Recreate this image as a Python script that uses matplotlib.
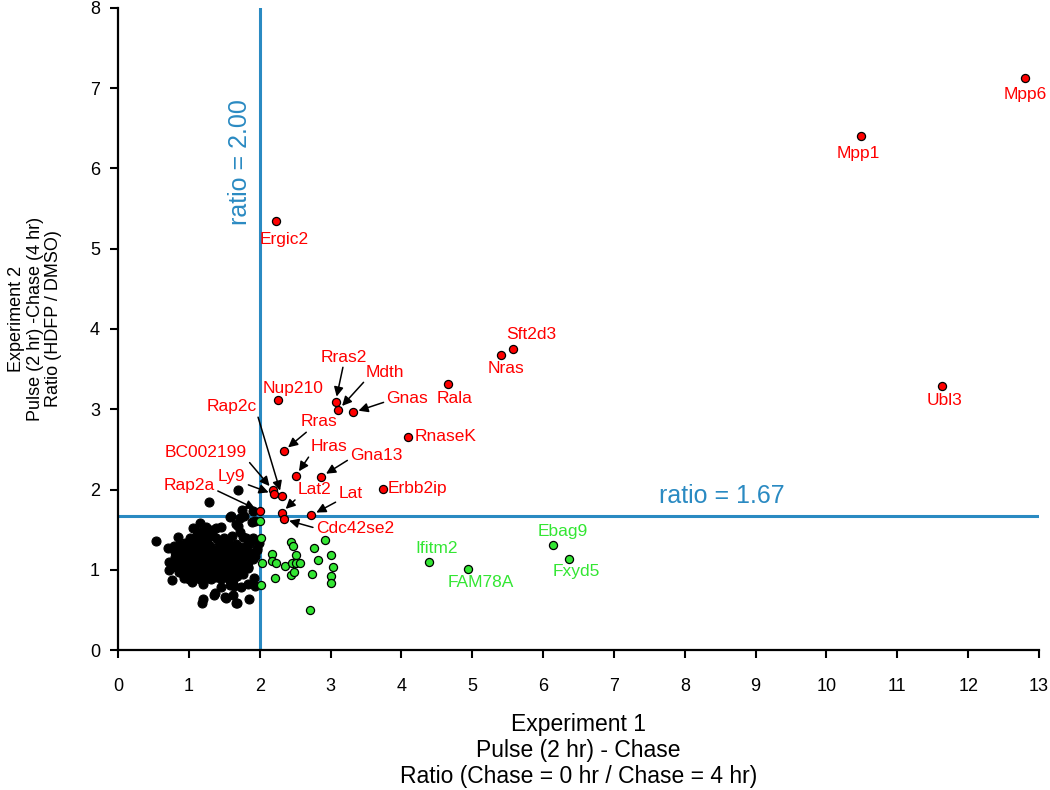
import matplotlib
matplotlib.use("Agg")
import matplotlib.pyplot as plt

plt.rcParams['font.family'] = ['Liberation Sans', 'DejaVu Sans']

# unlabeled background proteins (black)
bg_x = [1.69, 1.28, 1.75, 1.91, 1.58, 1.60, 1.72, 1.78, 1.93, 1.16, 1.67, 1.70,
        1.06, 1.13, 1.20, 1.33, 1.39, 1.45, 1.24, 1.28,
        0.84, 1.11, 1.27, 1.49, 1.52, 1.77, 1.80, 1.02, 1.17, 1.22, 1.33, 1.38, 1.61, 1.72,
        0.54,
        0.79, 0.71, 0.88, 0.95, 1.05, 1.10, 1.15, 1.25, 1.30, 1.42, 1.47, 1.55, 1.60, 1.66, 1.84, 1.99, 1.88, 1.74,
        0.80, 0.90, 0.96, 1.00, 1.06, 1.12, 1.18, 1.22, 1.28, 1.34, 1.39, 1.44, 1.50, 1.56, 1.62, 1.68, 1.73, 1.80, 1.86, 1.94, 1.96,
        0.80, 0.86, 0.92, 0.98, 1.03, 1.08, 1.13, 1.19, 1.24, 1.30, 1.35, 1.41, 1.46, 1.52, 1.57, 1.63, 1.69, 1.75, 1.82, 1.90,
        0.72, 0.78, 0.84, 0.90, 0.95, 1.01, 1.06, 1.11, 1.16, 1.21, 1.27, 1.32, 1.37, 1.42, 1.48, 1.53, 1.58, 1.64, 1.70, 1.77, 1.84,
        0.72, 0.82, 0.88, 0.93, 0.99, 1.04, 1.09, 1.14, 1.19, 1.24, 1.29, 1.34, 1.40, 1.45, 1.50, 1.55, 1.61, 1.67, 1.72, 1.84, 1.79,
        0.86, 0.92, 0.97, 1.02, 1.07, 1.12, 1.17, 1.22, 1.27, 1.32, 1.37, 1.43, 1.48, 1.53, 1.59, 1.65, 1.70, 1.77, 1.92,
        0.76, 0.93, 1.00, 1.05, 1.10, 1.16, 1.25, 1.31, 1.38, 1.46, 1.55, 1.62, 1.68,
        1.58, 1.64, 1.74, 1.83, 1.20, 1.45, 1.93,
        1.20, 1.19, 1.35, 1.52, 1.62, 1.68, 1.85, 1.89, 1.91, 1.96, 1.84, 1.37, 1.51, 1.67]
bg_y = [1.99, 1.85, 1.74, 1.73, 1.66, 1.67, 1.64, 1.67, 1.61, 1.58, 1.57, 1.55,
        1.52, 1.47, 1.47, 1.50, 1.52, 1.53, 1.53, 1.49,
        1.41, 1.43, 1.41, 1.39, 1.36, 1.41, 1.39, 1.40, 1.38, 1.42, 1.44, 1.40, 1.42, 1.47,
        1.36,
        1.30, 1.27, 1.31, 1.33, 1.30, 1.34, 1.30, 1.33, 1.30, 1.32, 1.29, 1.33, 1.30, 1.32, 1.31, 1.33, 1.36, 1.28,
        1.22, 1.24, 1.21, 1.26, 1.23, 1.25, 1.22, 1.26, 1.23, 1.25, 1.22, 1.24, 1.21, 1.24, 1.22, 1.25, 1.21, 1.24, 1.21, 1.17, 1.25,
        1.16, 1.18, 1.15, 1.17, 1.14, 1.18, 1.15, 1.17, 1.14, 1.18, 1.15, 1.17, 1.14, 1.18, 1.15, 1.17, 1.14, 1.17, 1.15, 1.13,
        1.10, 1.08, 1.11, 1.09, 1.12, 1.09, 1.11, 1.08, 1.12, 1.09, 1.11, 1.08, 1.12, 1.09, 1.11, 1.08, 1.12, 1.09, 1.11, 1.08, 1.10,
        1.00, 1.04, 1.02, 1.05, 1.03, 1.05, 1.02, 1.05, 1.03, 1.06, 1.03, 1.05, 1.02, 1.05, 1.03, 1.06, 1.03, 1.05, 1.02, 1.02, 1.04,
        0.97, 0.95, 0.98, 0.96, 0.99, 0.96, 0.98, 0.95, 0.98, 0.96, 0.99, 0.96, 0.98, 0.95, 0.97, 0.96, 0.98, 0.95, 0.90,
        0.87, 0.90, 0.88, 0.85, 0.91, 0.89, 0.90, 0.88, 0.91, 0.89, 0.90, 0.87, 0.92,
        0.81, 0.80, 0.79, 0.82, 0.82, 0.78, 0.80,
        0.63, 0.58, 0.69, 0.65, 0.69, 0.59, 0.63, 1.60, 1.39, 1.27, 1.04, 0.71, 0.66, 0.58]

# unlabeled decreased proteins (green)
grn_x = [2.00, 2.02, 2.03, 2.02, 2.18, 2.18, 2.23, 2.22, 2.36, 2.44, 2.47, 2.51, 2.45,
         2.51, 2.57, 2.44, 2.49, 2.76, 2.82, 2.74, 2.92, 3.00, 3.03, 3.00, 3.00, 2.71]
grn_y = [1.61, 1.40, 1.08, 0.81, 1.20, 1.11, 1.09, 0.90, 1.05, 1.34, 1.30, 1.19, 1.08,
         1.09, 1.09, 0.93, 0.97, 1.27, 1.12, 0.95, 1.37, 1.19, 1.03, 0.92, 0.83, 0.50]

# labeled increased proteins (red)
red_names = ['Mpp6', 'Mpp1', 'Ubl3', 'Ergic2', 'Sft2d3', 'Nras', 'Rala', 'RnaseK', 'Erbb2ip',
             'Gnas', 'Mdth', 'Rras2', 'Nup210', 'Rras', 'Hras', 'Gna13', 'BC002199', 'Ly9',
             'Rap2c', 'Rap2a', 'Lat2', 'Lat', 'Cdc42se2']
red_x = [12.80, 10.49, 11.63, 2.23, 5.58, 5.41, 4.66, 4.09, 3.74,
         3.32, 3.11, 3.07, 2.26, 2.34, 2.51, 2.87, 2.19, 2.20,
         2.31, 2.01, 2.31, 2.73, 2.34]
red_y = [7.13, 6.41, 3.29, 5.35, 3.75, 3.68, 3.32, 2.66, 2.01,
         2.96, 2.99, 3.09, 3.11, 2.48, 2.17, 2.16, 1.99, 1.94,
         1.92, 1.73, 1.71, 1.68, 1.63]

# labeled decreased proteins (green)
gl_names = ['Ifitm2', 'FAM78A', 'Ebag9', 'Fxyd5']
gl_x = [4.39, 4.94, 6.14, 6.37]
gl_y = [1.10, 1.01, 1.31, 1.13]

x_cut = 2.00
y_cut = 1.67

# label offsets (pixels), alignment, and arrow start on text (None = no arrow)
red_off = [(0, -17), (-3, -18), (3, -15), (8, -19), (18, 15), (5, -14), (6, -15), (7, 0), (5, 0),
           (54, 14), (47, 38), (8, 45), (15, 12), (35, 29), (33, 29), (55, 21), (-67, 38), (-42, 18),
           (-50, 89), (-71, 26), (33, 23), (39, 22), (71, -9)]
red_ha = ['center'] * 7 + ['left', 'left'] + ['center'] * 14
red_arrow = [None] * 9 + [(0, 0.3), (0, 0), (0.5, 0), None, (0.25, 0), (0, 0), (0, 0.3), (1, 0), (1, 0),
                          (1, 0.1), (1, 0.2), (0, 0), (0, 0), (0, 0.5)]
gl_off = [(8, 13), (13, -14), (10, 13), (7, -12)]

blue = '#2A8AC2'
red = '#FF0000'
green = '#33E633'

fig = plt.figure(figsize=(10.5, 7.9), dpi=100)
ax = fig.add_axes([0.1124, 0.1772, 0.8771, 0.8127])

ax.axvline(x_cut, color=blue, lw=2.2, zorder=1)
ax.axhline(y_cut, color=blue, lw=2.2, zorder=1)

ax.scatter(bg_x, bg_y, s=42, c='black', edgecolors='black', linewidths=0.8, zorder=3)
ax.scatter(grn_x, grn_y, s=34, c=green, edgecolors='black', linewidths=0.9, zorder=4)
ax.scatter(gl_x, gl_y, s=34, c=green, edgecolors='black', linewidths=0.9, zorder=4)
ax.scatter(red_x, red_y, s=34, c=red, edgecolors='black', linewidths=0.9, zorder=4)

for name, x, y, off, ha, arr in zip(red_names, red_x, red_y, red_off, red_ha, red_arrow):
    props = None
    if arr is not None:
        props = dict(arrowstyle='-|>', color='black', lw=1.1, mutation_scale=14,
                     shrinkA=0, shrinkB=4, relpos=arr)
    ax.annotate(name, (x, y), xytext=off, textcoords='offset pixels', ha=ha, va='center',
                color=red, fontsize=12.5, arrowprops=props, zorder=5)

for name, x, y, off in zip(gl_names, gl_x, gl_y, gl_off):
    ax.annotate(name, (x, y), xytext=off, textcoords='offset pixels', ha='center', va='center',
                color=green, fontsize=12.5, zorder=5)

ax.text(1.72, 6.08, 'ratio = 2.00', rotation=90, ha='center', va='center', color=blue, fontsize=18)
ax.text(8.53, 1.92, 'ratio = 1.67', ha='center', va='center', color=blue, fontsize=18)

ax.set_xlim(0, 13)
ax.set_ylim(0, 8)
ax.set_xticks(range(0, 14))
ax.set_yticks(range(0, 9))
for s in ['top', 'right']:
    ax.spines[s].set_visible(False)
for s in ['left', 'bottom']:
    ax.spines[s].set_linewidth(1.6)
ax.tick_params(axis='both', direction='out', length=6, width=1.5, labelsize=13)
ax.tick_params(axis='x', pad=14)
ax.tick_params(axis='y', pad=7)

ax.set_xlabel('Experiment 1\nPulse (2 hr) - Chase\nRatio (Chase = 0 hr / Chase = 4 hr)',
              fontsize=16.5, linespacing=1.18)
ax.xaxis.set_label_coords(0.5, -0.098)
ax.set_ylabel('Experiment 2\nPulse (2 hr) -Chase (4 hr)\nRatio (HDFP / DMSO)',
              fontsize=13, linespacing=1.1)
ax.yaxis.set_label_coords(-0.061, 0.516)

fig.savefig('out.png', dpi=100)
